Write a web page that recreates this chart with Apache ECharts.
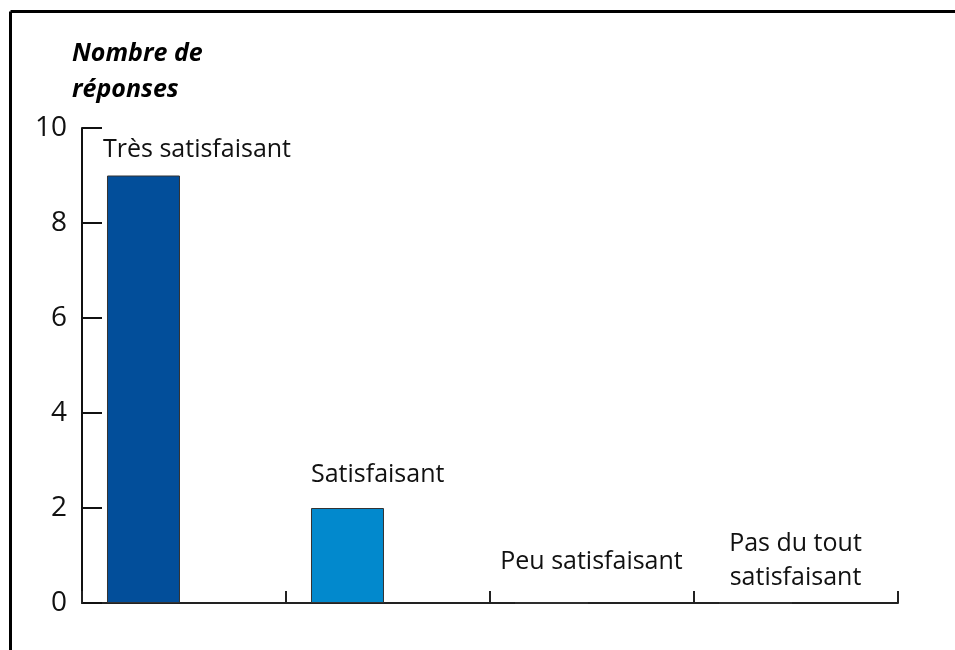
<!DOCTYPE html>
<html>
<head>
<meta charset="utf-8">
<script src="https://cdn.jsdelivr.net/npm/echarts@6/dist/echarts.min.js"></script>
<style>
  html, body { margin: 0; padding: 0; background: #fff; }
  #main { width: 955px; height: 650px; }
</style>
</head>
<body>
<div id="main"></div>
<script>
// données
var categories = ['Très satisfaisant', 'Satisfaisant', 'Peu satisfaisant', 'Pas du tout\nsatisfaisant'];
var reponses = [9, 2, 0, 0];
var yTicks = [0, 2, 4, 6, 8, 10];

var barColors = ['#024e9a', '#0289cd', '#0289cd', '#0289cd'];
// où placer le nom de chaque catégorie (relatif à la barre)
var labelPos = [[-4, -26], [0, -33], [77, -41], [77, -42]];

var myChart = echarts.init(document.getElementById('main'));

var barData = reponses.map(function (v, i) {
  var centered = v === 0;
  return {
    value: v,
    itemStyle: { color: barColors[i] },
    label: {
      show: true,
      formatter: categories[i],
      position: labelPos[i],
      align: centered ? 'center' : 'left',
      verticalAlign: 'middle'
    }
  };
});

var option = {
  animation: false,
  textStyle: { fontFamily: 'Open Sans' },
  title: {
    text: 'Nombre de\nréponses',
    left: 67,
    top: 31,
    textStyle: {
      fontFamily: 'Open Sans',
      fontSize: 25,
      fontWeight: 'bold',
      fontStyle: 'italic',
      lineHeight: 36,
      color: '#000'
    }
  },
  graphic: [
    { type: 'line', shape: { x1: 10.5, y1: 11.5, x2: 955, y2: 11.5 }, style: { stroke: '#000', lineWidth: 3 } },
    { type: 'line', shape: { x1: 10.5, y1: 11.5, x2: 10.5, y2: 650 }, style: { stroke: '#000', lineWidth: 3 } }
  ],
  grid: { left: 82, right: 57, top: 128, bottom: 47 },
  xAxis: {
    type: 'category',
    data: categories,
    axisLine: { lineStyle: { color: '#222', width: 2 } },
    axisTick: { show: true, inside: true, length: 12, interval: 0, lineStyle: { color: '#222', width: 2 } },
    axisLabel: { show: false },
    splitLine: { show: false }
  },
  yAxis: {
    type: 'value',
    min: yTicks[0],
    max: yTicks[yTicks.length - 1],
    interval: 2,
    axisLine: { show: true, lineStyle: { color: '#111', width: 2 } },
    axisTick: { show: true, inside: true, length: 20, lineStyle: { color: '#111', width: 2 } },
    axisLabel: { fontSize: 28, color: '#111', margin: 15, fontFamily: 'Open Sans' },
    splitLine: { show: false }
  },
  series: [{
    name: 'Réponses',
    type: 'bar',
    barWidth: 73,
    barGap: '11%',
    data: barData,
    itemStyle: { borderColor: '#333', borderWidth: 1 },
    label: { fontSize: 25, color: '#111', fontFamily: 'Open Sans', lineHeight: 34 }
  }, {
    name: 'vide',
    type: 'bar',
    barWidth: 73,
    data: reponses.map(function () { return '-'; })
  }]
};

myChart.setOption(option);
</script>
</body>
</html>
